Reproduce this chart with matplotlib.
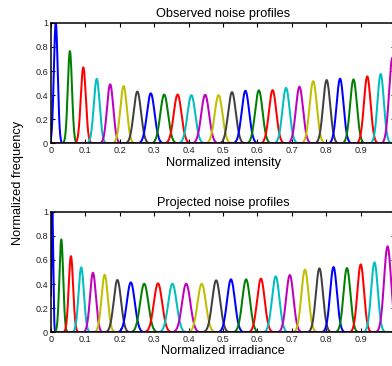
import numpy as np
import matplotlib
matplotlib.use("Agg")
import matplotlib.pyplot as plt

plt.rcParams['font.family'] = ['Liberation Sans', 'DejaVu Sans']

# ---- data ----
colors = ['#0000ff', '#008000', '#ff0000', '#00bfbf', '#bf00bf', '#bfbf00', '#404040']

obs_centers = [0.014, 0.055, 0.094, 0.133, 0.172, 0.211, 0.251, 0.290, 0.329, 0.368,
               0.408, 0.448, 0.487, 0.526, 0.565, 0.604, 0.644, 0.683, 0.722, 0.762,
               0.801, 0.840, 0.879, 0.919, 0.958, 0.992]
obs_heights = [1.0, 0.765, 0.63, 0.535, 0.49, 0.475, 0.43, 0.415, 0.405, 0.405,
               0.40, 0.403, 0.40, 0.425, 0.436, 0.44, 0.442, 0.46, 0.47, 0.516,
               0.525, 0.536, 0.53, 0.555, 0.575, 0.71]
obs_widths = [0.0056, 0.0061, 0.0073, 0.0085, 0.0091, 0.0096, 0.0107, 0.0111, 0.0113, 0.0113,
              0.0114, 0.0114, 0.0114, 0.0111, 0.0109, 0.0108, 0.0106, 0.0105, 0.0104, 0.0105,
              0.0103, 0.0100, 0.0099, 0.0096, 0.0092, 0.0096]

proj_centers = [0.004, 0.030, 0.058, 0.088, 0.122, 0.156, 0.193, 0.232, 0.271, 0.311,
                0.353, 0.393, 0.438, 0.480, 0.523, 0.567, 0.610, 0.653, 0.694, 0.738,
                0.780, 0.821, 0.860, 0.900, 0.940, 0.978]
proj_heights = [1.0, 0.77, 0.632, 0.539, 0.494, 0.478, 0.434, 0.414, 0.403, 0.406,
                0.403, 0.403, 0.403, 0.431, 0.439, 0.439, 0.445, 0.464, 0.475, 0.52,
                0.53, 0.541, 0.533, 0.563, 0.58, 0.713]
proj_widths = [0.0026, 0.0055, 0.0064, 0.0078, 0.0085, 0.0091, 0.0106, 0.0115, 0.0119, 0.0120,
               0.0121, 0.0121, 0.0121, 0.0116, 0.0113, 0.0112, 0.0110, 0.0108, 0.0106, 0.0104,
               0.0103, 0.0100, 0.0100, 0.0096, 0.0096, 0.0102]

xticks = [0, 0.1, 0.2, 0.3, 0.4, 0.5, 0.6, 0.7, 0.8, 0.9]
yticks = [0, 0.2, 0.4, 0.6, 0.8, 1]

fig = plt.figure(figsize=(3.92, 3.66), dpi=100)

def panel(rect, centers, heights, widths, title, xlabel):
    ax = fig.add_axes(rect)
    x = np.linspace(0, 1, 4001)
    for i, (c, h, w) in enumerate(zip(centers, heights, widths)):
        y = h * np.exp(-0.5 * ((x - c) / w) ** 2)
        ax.plot(x, y, color=colors[i % len(colors)], lw=1.45, clip_on=True)
    ax.set_xlim(0, 1)
    ax.set_ylim(0, 1)
    ax.set_xticks(xticks)
    ax.set_xticklabels(['%g' % t for t in xticks])
    ax.set_yticks(yticks)
    ax.set_yticklabels(['%g' % t for t in yticks])
    ax.tick_params(direction='in', length=3, width=0.8, labelsize=6.6, pad=2,
                   top=True, right=True, colors='black', labelcolor='#222222')
    for s in ax.spines.values():
        s.set_linewidth(1.1)
    ax.set_title(title, fontsize=9.2, pad=4)
    ax.set_xlabel(xlabel, fontsize=9.2, labelpad=1)
    return ax

panel([0.130, 0.608, 0.878, 0.330], obs_centers, obs_heights, obs_widths,
      'Observed noise profiles', 'Normalized intensity')
panel([0.130, 0.092, 0.878, 0.3295], proj_centers, proj_heights, proj_widths,
      'Projected noise profiles', 'Normalized irradiance')

fig.text(18 / 392, 1 - 183 / 366, 'Normalized frequency', rotation=90,
         ha='center', va='center', fontsize=9.2)

fig.savefig('out.png', dpi=100)
